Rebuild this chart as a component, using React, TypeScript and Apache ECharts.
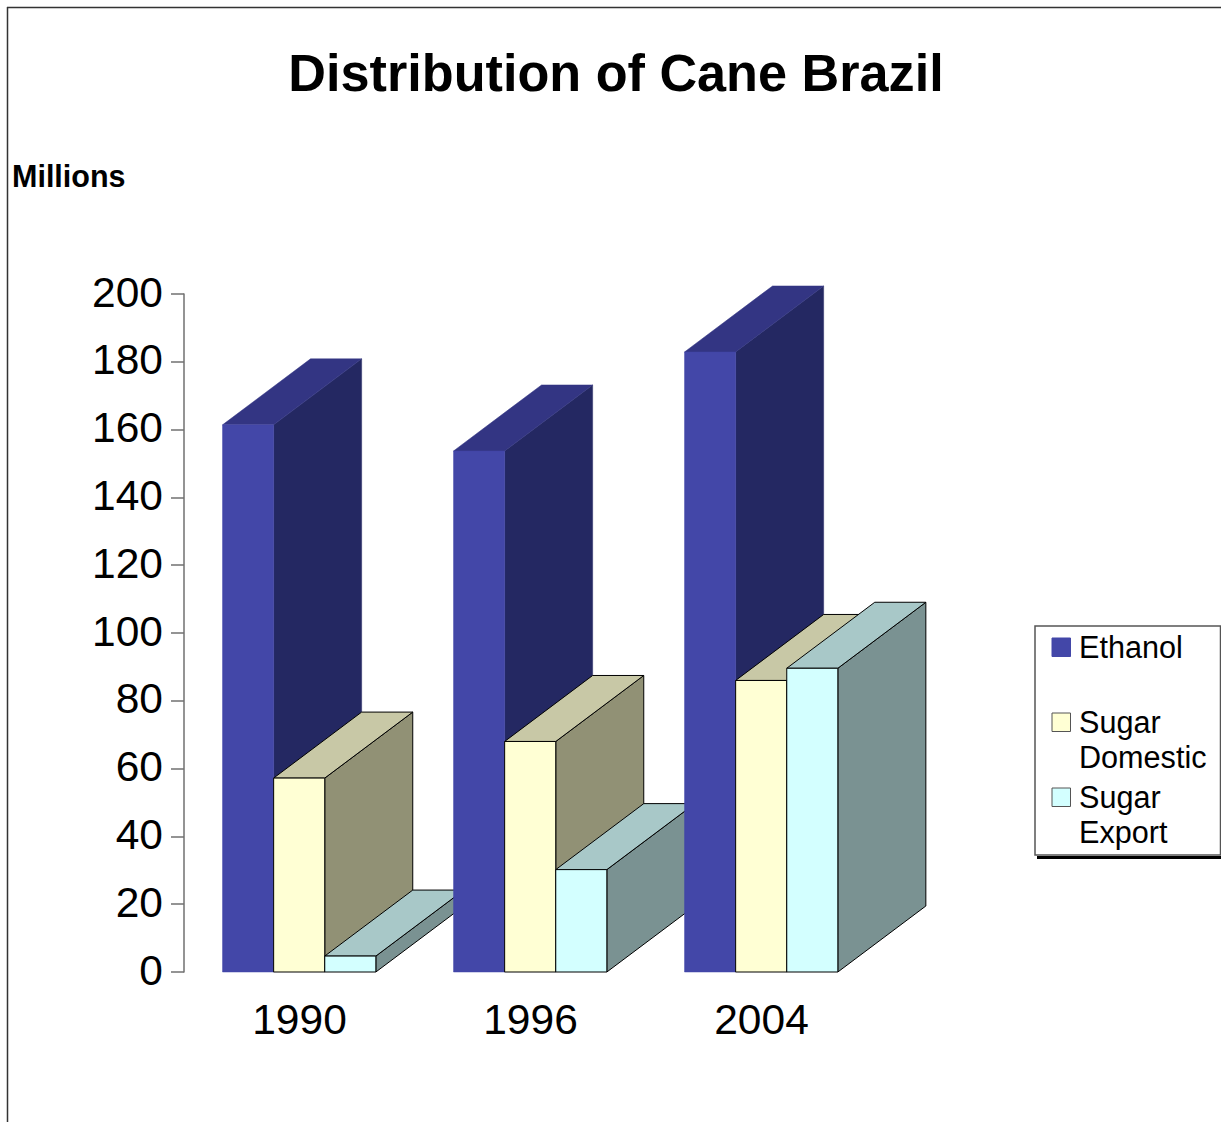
import React, { useEffect, useRef } from "react";
import * as echarts from "echarts";

const categories = ["1990", "1996", "2004"];
const ethanol = [161.4, 153.7, 182.9];
const sugarDomestic = [57.2, 68.0, 86.0];
const sugarExport = [4.7, 30.2, 89.6];
const seriesNames = ["Ethanol", "Sugar Domestic", "Sugar Export"];
const legendLines = [["Ethanol"], ["Sugar", "Domestic"], ["Sugar", "Export"]];
const yTicks = { min: 0, max: 200, interval: 20 };

const FONT = '"Liberation Sans", Arial, sans-serif';
const faces = [
  { front: "#4347A8", top: "#333583", side: "#242862", edge: "" },
  { front: "#FFFFD4", top: "#C8C8A6", side: "#919175", edge: "#000000" },
  { front: "#D3FFFF", top: "#A8C8C8", side: "#7A9292", edge: "#000000" },
];
const DX = 88;
const DY = -66;

function render3D(seriesIndex: number) {
  return (params: any, api: any) => {
    const cat = api.value(0);
    const [cx, yTop] = api.coord([cat, api.value(1)]);
    const [, yBase] = api.coord([cat, 0]);
    const w = api.size([1, 0])[0] / 4.52;
    const x0 = cx + (seriesIndex - 1.5) * w - 0.3;
    const x1 = x0 + w;
    const f = faces[seriesIndex];
    const z = cat * 100 + seriesIndex * 10;
    const style = (fill: string) =>
      f.edge
        ? { fill, stroke: f.edge, lineWidth: 1 }
        : { fill, stroke: fill, lineWidth: 0.5 };
    return {
      type: "group",
      children: [
        {
          type: "polygon",
          z2: z + 1,
          shape: { points: [[x1, yTop], [x1 + DX, yTop + DY], [x1 + DX, yBase + DY], [x1, yBase]] },
          style: style(f.side),
        },
        {
          type: "polygon",
          z2: z + 2,
          shape: { points: [[x0, yTop], [x0 + DX, yTop + DY], [x1 + DX, yTop + DY], [x1, yTop]] },
          style: style(f.top),
        },
        {
          type: "polygon",
          z2: z + 3,
          shape: { points: [[x0, yTop], [x1, yTop], [x1, yBase], [x0, yBase]] },
          style: style(f.front),
        },
      ],
    };
  };
}

function legendGraphics() {
  const rowY = [647, 722, 797];
  const out: any[] = [
    { type: "rect", shape: { x: 1037, y: 856, width: 184, height: 3 }, style: { fill: "#000" } },
    {
      type: "rect",
      shape: { x: 1035, y: 626, width: 185.5, height: 229 },
      style: { fill: "#fff", stroke: "#555", lineWidth: 1.5 },
    },
  ];
  legendLines.forEach((lines, i) => {
    out.push({
      type: "rect",
      shape: { x: 1052, y: rowY[i] - 9, width: 18.5, height: 18.5 },
      style: { fill: faces[i].front, stroke: faces[i].edge ? "#555" : faces[i].front, lineWidth: 1 },
    });
    lines.forEach((t, j) =>
      out.push({
        type: "text",
        x: 1079,
        y: rowY[i] + j * 35 - 0.5,
        style: { text: t, font: `30.6px ${FONT}`, fill: "#000", verticalAlign: "middle" },
      })
    );
  });
  return out;
}

export default function App() {
  const ref = useRef<HTMLDivElement>(null);
  useEffect(() => {
    const chart = echarts.init(ref.current!, undefined, { renderer: "svg" });
    const values = [ethanol, sugarDomestic, sugarExport];
    chart.setOption({
      animation: false,
      backgroundColor: "#ffffff",
      title: {
        text: "Distribution of Cane Brazil",
        left: 611,
        top: 42,
        textAlign: "center",
        textStyle: { fontFamily: FONT, fontWeight: "bold", fontSize: 52.2, color: "#000" },
      },
      grid: { left: 184, right: 1221 - 877, top: 294, bottom: 1122 - 972, containLabel: false },
      xAxis: {
        type: "category",
        data: categories,
        axisLine: { show: false },
        axisTick: { show: false },
        axisLabel: { fontFamily: FONT, fontSize: 42.5, color: "#000", margin: 26 },
      },
      yAxis: {
        type: "value",
        min: yTicks.min,
        max: yTicks.max,
        interval: yTicks.interval,
        splitLine: { show: false },
        axisLine: { show: true, lineStyle: { color: "#707070", width: 1.5 } },
        axisTick: { show: true, length: 13, lineStyle: { color: "#707070", width: 1.5 } },
        axisLabel: {
          margin: 21,
          formatter: "{n|{value}}",
          rich: { n: { fontFamily: FONT, fontSize: 42.5, color: "#000", padding: [0, 0, 4, 0] } },
        },
      },
      series: seriesNames.map((name, i) => ({
        type: "custom",
        name,
        coordinateSystem: "cartesian2d",
        clip: false,
        encode: { x: 0, y: 1 },
        data: categories.map((_, c) => [c, values[i][c]]),
        renderItem: render3D(i),
      })),
      graphic: [
        { type: "line", shape: { x1: 7.5, y1: 7, x2: 7.5, y2: 1122 }, style: { stroke: "#333", lineWidth: 1.5 } },
        { type: "line", shape: { x1: 7, y1: 7.5, x2: 1221, y2: 7.5 }, style: { stroke: "#333", lineWidth: 1.5 } },
        {
          type: "text",
          x: 12,
          y: 175.5,
          style: { text: "Millions", font: `bold 30.5px ${FONT}`, fill: "#000", verticalAlign: "middle" },
        },
        ...legendGraphics(),
      ],
    });
    return () => chart.dispose();
  }, []);
  return <div ref={ref} style={{ position: "absolute", left: 0, top: 0, width: 1221, height: 1122 }} />;
}
